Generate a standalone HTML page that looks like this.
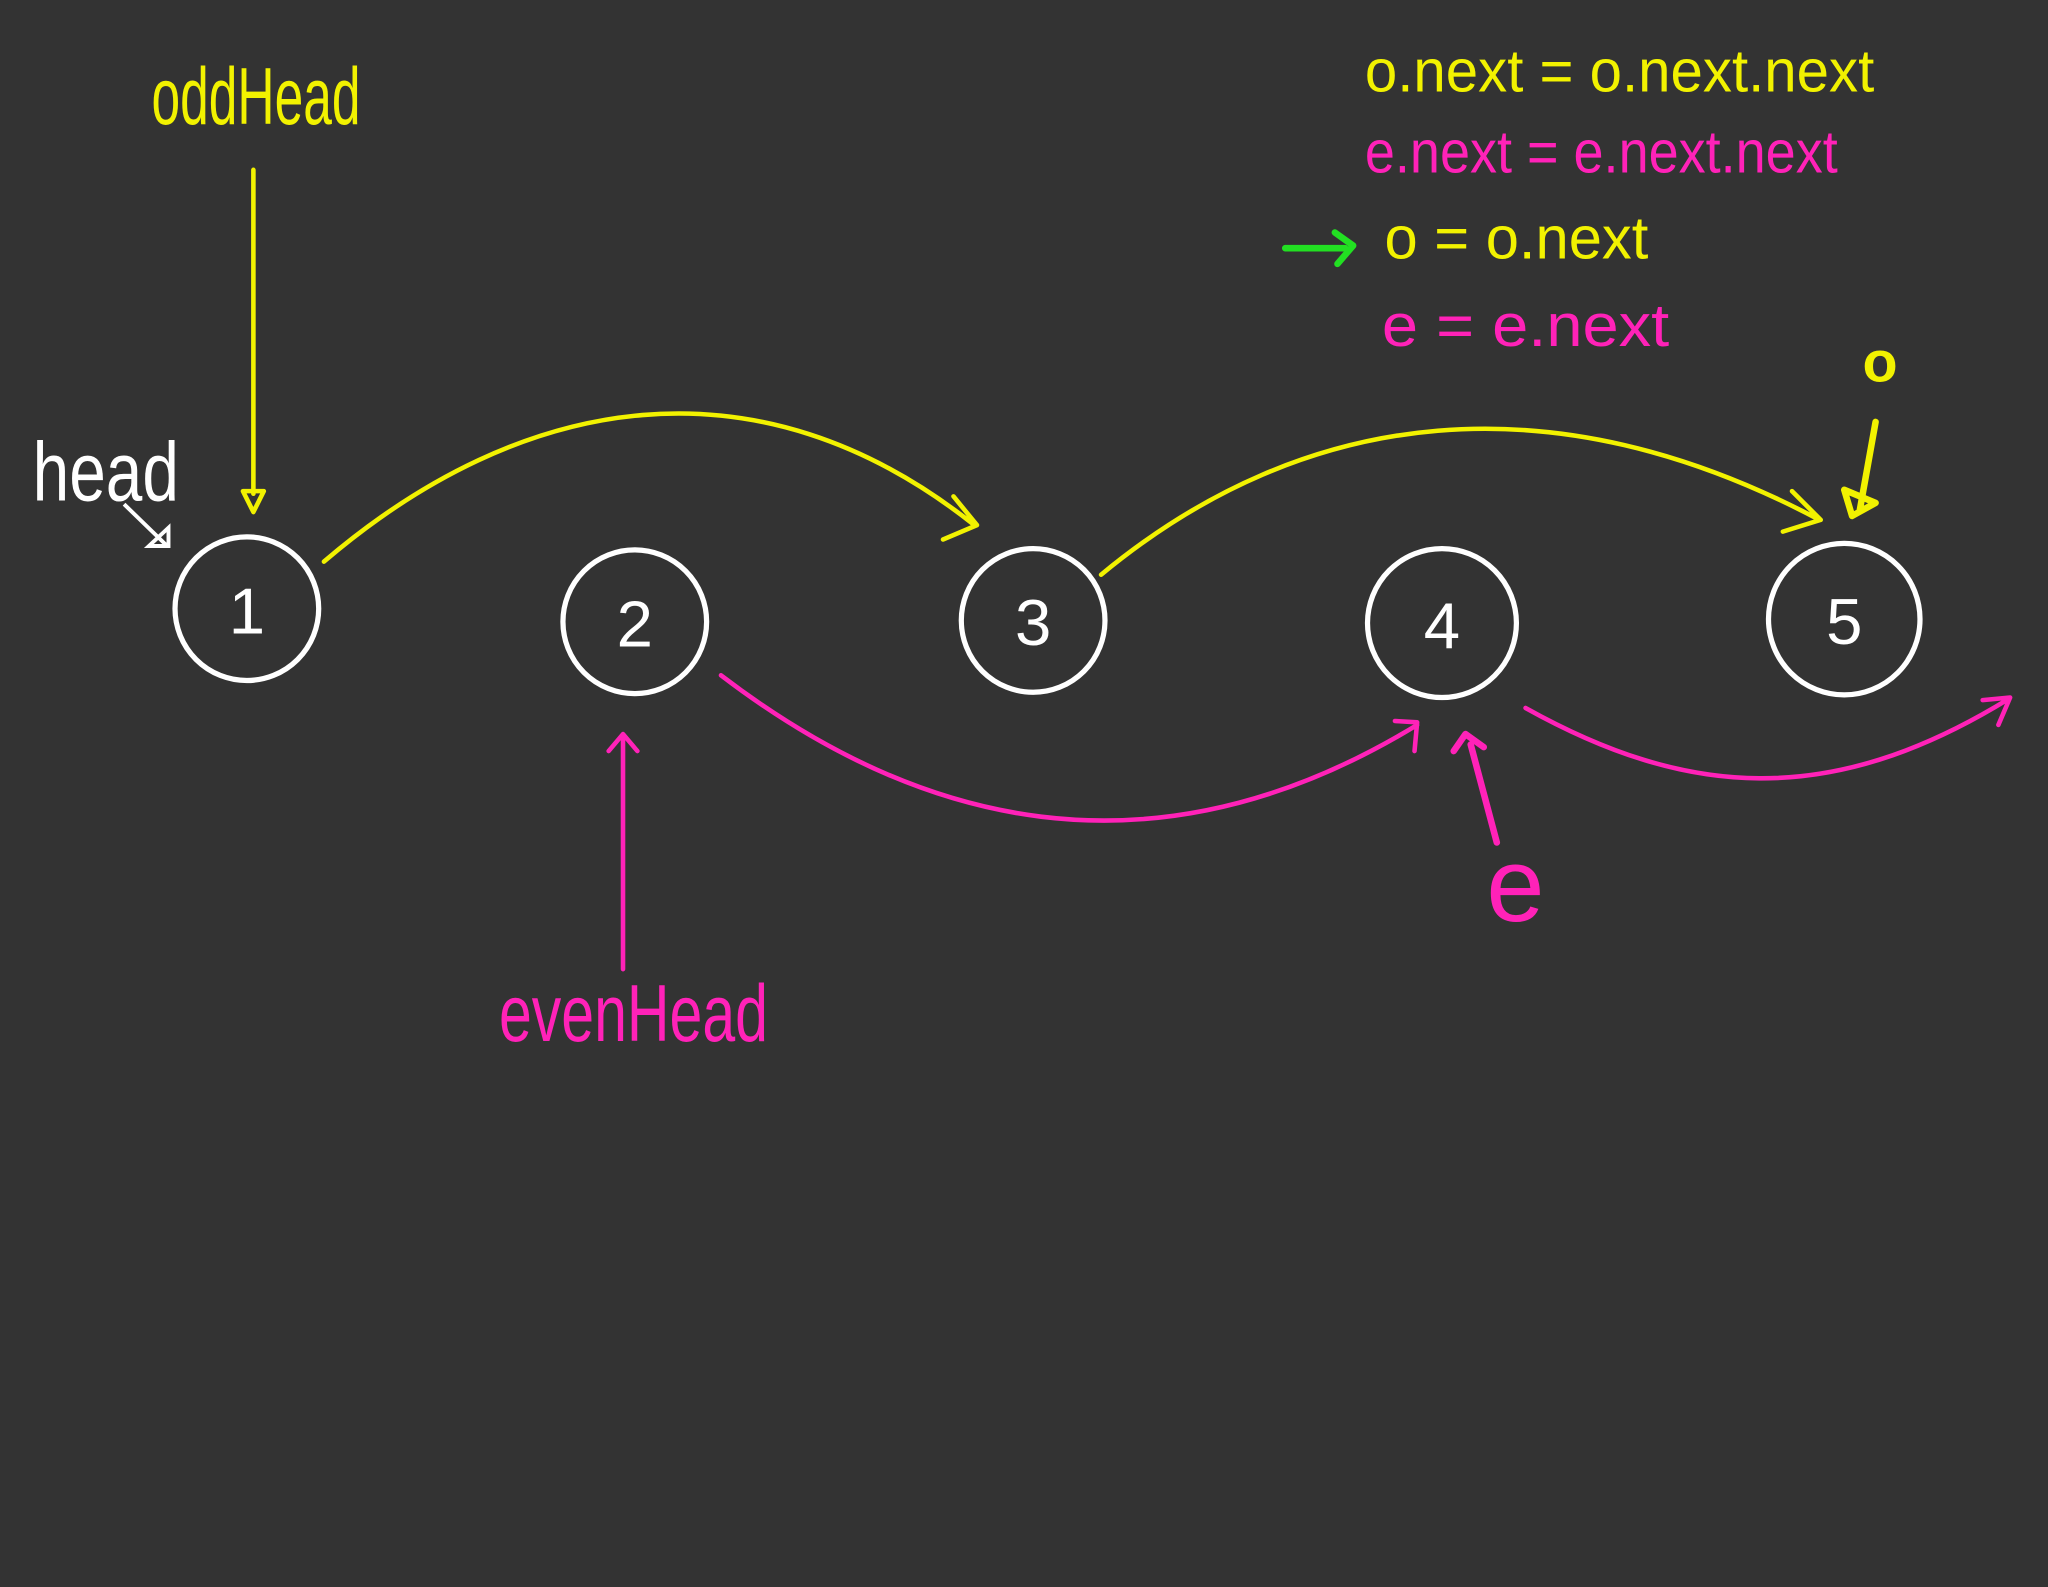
<!DOCTYPE html>
<html><head><meta charset="utf-8"><style>
html,body{margin:0;padding:0;background:#333333;}
svg{display:block;}
text{font-family:"Liberation Sans Narrow","Liberation Sans",sans-serif;}
</style></head><body>
<svg width="2048" height="1587" viewBox="0 0 1568 1215" xmlns="http://www.w3.org/2000/svg">
<rect width="1568" height="1215" fill="#333333"/>
<g fill="none" stroke="#ffffff" stroke-width="4">
<circle cx="189" cy="466" r="55"/>
<circle cx="486" cy="476" r="55"/>
<circle cx="791" cy="475" r="55"/>
<circle cx="1104" cy="477" r="57"/>
<circle cx="1412" cy="474" r="58"/>
<path d="M95,386 L128,418 M114,418 L129,418 L129,404 Z" stroke-width="3"/>
</g>
<g fill="#fff" font-size="50" text-anchor="middle">
<text x="189" y="485">1</text>
<text x="486" y="495">2</text>
<text x="791" y="494">3</text>
<text x="1104" y="496">4</text>
<text x="1412" y="493">5</text>
</g>
<text x="25" y="383" fill="#fff" font-size="64" textLength="112" lengthAdjust="spacingAndGlyphs">head</text>
<g fill="none" stroke="#f2f200" stroke-width="3.5" stroke-linecap="round" stroke-linejoin="round">
<path d="M194,130 L194,378 M186,376 L202,376 L194,392 Z"/>
<path d="M248,430 C400,300 580,270 746,402 M730,380 L748,402 L722,413"/>
<path d="M843,440 C1000,310 1190,290 1393,398 M1372,376 L1394,398 L1365,407"/>
<path d="M1436,323 L1424,390 M1412,375 L1418,395 L1436,385 Z" stroke-width="5"/>
</g>
<g fill="none" stroke="#ff22b8" stroke-width="3.5" stroke-linecap="round" stroke-linejoin="round">
<path d="M552,517 C700,630 880,680 1085,555 M1068,552 L1085,553 L1083,575"/>
<path d="M1168,542 C1290,610 1400,620 1538,535 M1518,536 L1539,534 L1530,555"/>
<path d="M477,742 L477,565 M466,575 L477,562 L488,575"/>
<path d="M1146,645 L1126,570 M1113,575 L1122,562 L1136,572" stroke-width="5"/>
</g>
<g font-size="62">
<text x="116" y="95" fill="#f2f200" textLength="160" lengthAdjust="spacingAndGlyphs">oddHead</text>
<text x="382" y="797" fill="#ff22b8" textLength="206" lengthAdjust="spacingAndGlyphs">evenHead</text>
<text x="1138" y="705" fill="#ff22b8" font-size="80">e</text>
<text x="1426" y="292" fill="#f2f200" font-size="44" font-weight="bold">o</text>
</g>
<g font-size="46">
<text x="1045" y="70" fill="#f2f200" textLength="390" lengthAdjust="spacingAndGlyphs">o.next = o.next.next</text>
<text x="1045" y="132" fill="#ff22b8" textLength="362" lengthAdjust="spacingAndGlyphs">e.next = e.next.next</text>
<text x="1060" y="198" fill="#f2f200" textLength="202" lengthAdjust="spacingAndGlyphs">o = o.next</text>
<text x="1058" y="265" fill="#ff22b8" textLength="220" lengthAdjust="spacingAndGlyphs">e = e.next</text>
</g>
<path d="M984,190 L1030,190 M1022,178 L1036,188 L1024,202" fill="none" stroke="#22e022" stroke-width="5" stroke-linecap="round" stroke-linejoin="round"/>
</svg>
</body></html>
